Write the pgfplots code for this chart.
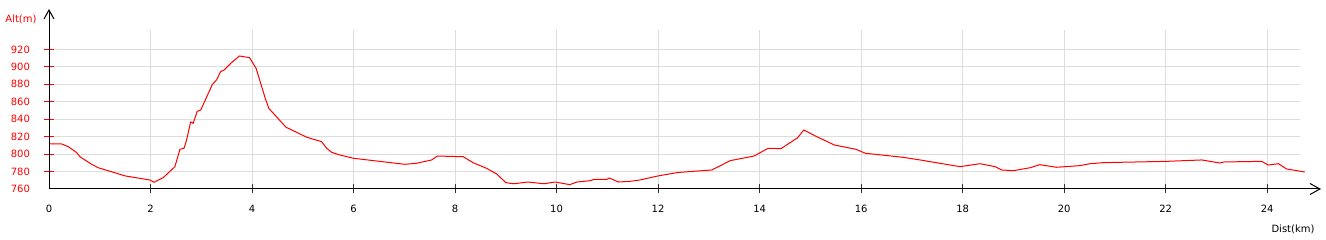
\documentclass[border=0pt]{standalone}
\usepackage{pgfplots}
\pgfplotsset{compat=1.18}
\usepackage{fontspec}
\setmainfont{DejaVu Sans}
\usetikzlibrary{arrows.meta}
\definecolor{gridc}{HTML}{DDDDDD}
\begin{document}
\begin{tikzpicture}[x=1pt,y=1pt]
\path[use as bounding box] (0,0) rectangle (1326,240);
\begin{axis}[
  at={(49pt,51pt)}, anchor=south west,
  scale only axis, width=1250.7pt, height=159pt,
  xmin=0, xmax=24.64, ymin=760, ymax=942.3,
  axis x line=bottom, axis y line=left,
  axis line style={draw=none},
  xtick={2,4,...,24}, ytick={780,800,...,920},
  extra x ticks={0}, extra y ticks={760},
  extra tick style={tick style={draw=none}, grid=none},
  grid=major, major grid style={gridc, line width=1pt},
  tick align=center, major tick length=9pt,
  xtick style={black!80, line width=1pt},
  ytick style={red, line width=1pt},
  /pgf/number format/assume math mode=true,
  /pgf/number format/1000 sep={},
  tick label style={font=\fontsize{10}{12}\selectfont},
  yticklabel style={red, xshift=-11pt},
  xticklabel style={black, yshift=-8pt},
  clip=false,
]
\addplot[red, line width=1pt] coordinates {
(0,811.6) (0.25,811.6) (0.38,808.5) (0.54,802) (0.61,797) (0.84,788.3) (0.97,784.4)
(1.50,775) (1.99,770.3) (2.07,767.7) (2.25,773) (2.48,785.6) (2.58,805.5) (2.66,806.7)
(2.71,816) (2.79,836.8) (2.84,835.3) (2.92,849) (2.99,850.6) (3.22,880) (3.30,885)
(3.38,894.5) (3.45,896.5) (3.58,904) (3.75,912.5) (3.95,910.6) (4.08,898.4) (4.26,864)
(4.33,852.5) (4.67,830.8) (5.08,819.3) (5.37,814.3) (5.47,806.7) (5.57,802) (5.73,799)
(6.0,795.2) (7.01,788.3) (7.24,789.5) (7.54,793.3) (7.65,797.8) (8.16,797) (8.36,790)
(8.62,783.7) (8.82,777.2) (9.00,767.3) (9.15,766) (9.44,768) (9.75,766) (9.97,768)
(10.26,765) (10.40,768) (10.66,769.5) (10.74,771) (10.99,771) (11.04,772.6) (11.22,768)
(11.45,768.8) (11.64,770.3) (12.0,775) (12.40,779) (13.06,781.8) (13.42,792.5)
(13.89,797.8) (14.17,806.7) (14.42,806.2) (14.75,818.8) (14.87,827.7) (15.09,821)
(15.47,810.5) (15.90,805.5) (16.08,801) (16.83,796.3) (17.16,793.3) (17.95,785.6)
(18.34,789) (18.64,785.6) (18.77,781.8) (19.0,781) (19.33,784.4) (19.52,787.9)
(19.85,784.9) (20.31,786.8) (20.51,789) (20.77,790.2) (22.02,791.7) (22.71,793.3)
(23.07,789.8) (23.15,791) (23.89,791.7) (24.02,787.5) (24.22,789) (24.38,783) (24.74,779.5)
};
\end{axis}
\draw[black, line width=1pt, -{Straight Barb[length=9pt,width=10pt]}] (49,50.5) -- (49,231);
\draw[black, line width=1pt, -{Straight Barb[length=10pt,width=11pt]}] (48.5,51) -- (1321,51);
\node[red, font=\fontsize{10}{12}\selectfont] at (21,221) {Alt(m)};
\node[black, font=\fontsize{10}{12}\selectfont] at (1293,11) {Dist(km)};
\end{tikzpicture}
\end{document}
